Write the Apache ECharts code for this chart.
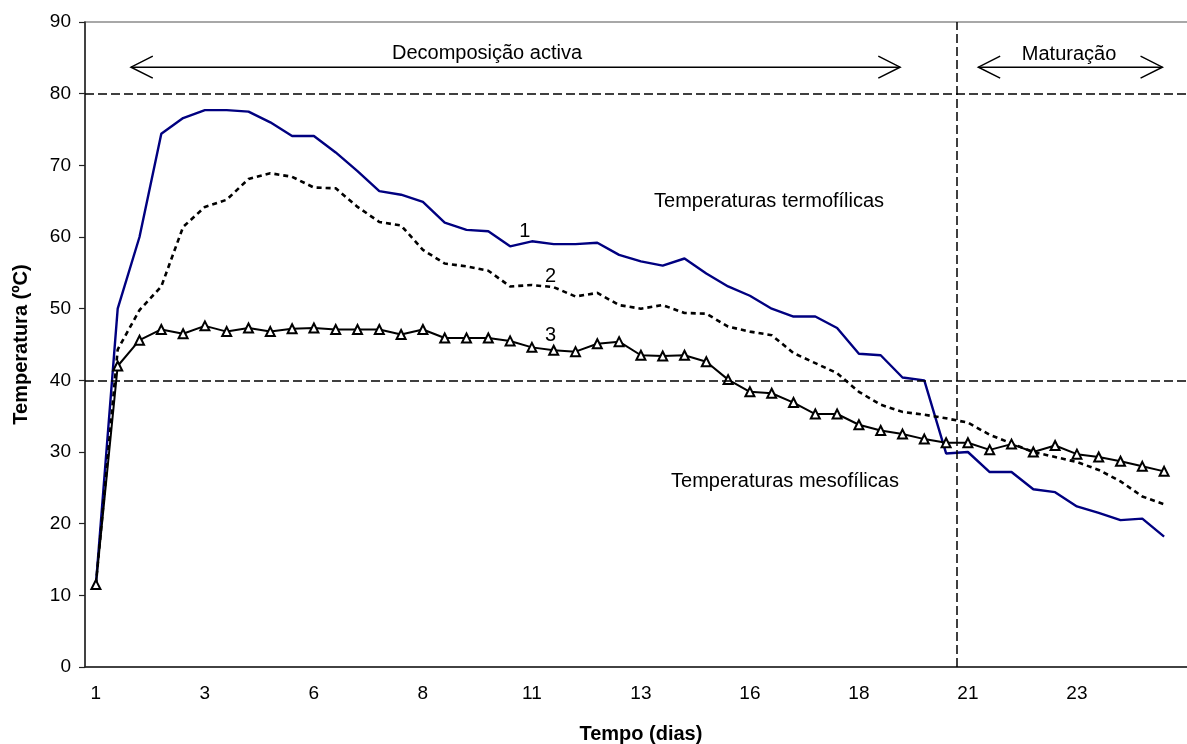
<!DOCTYPE html>
<html>
<head>
<meta charset="utf-8">
<script src="https://cdn.jsdelivr.net/npm/echarts@6/dist/echarts.min.js"></script>
<style>
  html, body { margin: 0; padding: 0; background: #fff; }
  #main { width: 1187px; height: 744px; }
</style>
</head>
<body>
<div id="main"></div>
<script>
  // dias de medição (meio dia entre pontos)
  const days = [1, 1.5, 2, 2.5, 3, 3.5, 4, 4.5, 5, 5.5, 6, 6.5, 7, 7.5, 8, 8.5, 9, 9.5, 10, 10.5,
    11, 11.5, 12, 12.5, 13, 13.5, 14, 14.5, 15, 15.5, 16, 16.5, 17, 17.5, 18, 18.5, 19, 19.5, 20, 20.5,
    21, 21.5, 22, 22.5, 23, 23.5, 24, 24.5, 25, 25.5];
  // o gráfico original está cortado à direita: mais uma categoria vazia
  const categories = days.concat(['']);

  const serie1 = [11.5, 50.0, 60.0, 74.4, 76.6, 77.7, 77.7, 77.5, 76.0, 74.1,
    74.1, 71.8, 69.2, 66.4, 65.9, 64.9, 62.0, 61.0, 60.8, 58.7,
    59.4, 59.0, 59.0, 59.2, 57.5, 56.6, 56.0, 57.0, 54.9, 53.1,
    51.8, 50.0, 48.9, 48.9, 47.3, 43.7, 43.5, 40.4, 40.0, 29.8,
    30.0, 27.2, 27.2, 24.8, 24.4, 22.4, 21.5, 20.5, 20.7, 18.2];
  const serie2 = [11.5, 44.3, 49.8, 53.1, 61.4, 64.2, 65.2, 68.1, 68.9, 68.4,
    66.9, 66.8, 64.2, 62.1, 61.6, 58.2, 56.3, 55.9, 55.3, 53.1,
    53.3, 53.0, 51.7, 52.2, 50.5, 50.0, 50.5, 49.4, 49.3, 47.5,
    46.8, 46.3, 43.8, 42.4, 41.0, 38.4, 36.6, 35.6, 35.2, 34.7,
    34.1, 32.4, 31.2, 30.0, 29.3, 28.6, 27.5, 25.9, 23.8, 22.7];
  const serie3 = [11.5, 42.0, 45.6, 47.1, 46.5, 47.6, 46.8, 47.3, 46.8, 47.2,
    47.3, 47.1, 47.1, 47.1, 46.4, 47.1, 45.9, 45.9, 45.9, 45.5,
    44.6, 44.2, 44.0, 45.1, 45.4, 43.5, 43.4, 43.5, 42.6, 40.1,
    38.4, 38.2, 36.9, 35.3, 35.3, 33.8, 33.0, 32.5, 31.8, 31.3,
    31.3, 30.3, 31.1, 30.0, 30.9, 29.7, 29.3, 28.7, 28.0, 27.3];

  // limites de temperatura e início da maturação (em posições de categoria)
  const limites = [40, 80];
  const inicioMaturacao = 40;

  // anotações: [posição x em categorias, temperatura, texto]
  const textos = [
    [18.44, 85.65, 'Decomposição activa'],
    [45.14, 85.5, 'Maturação'],
    [31.38, 64.9, 'Temperaturas termofílicas'],
    [32.11, 25.95, 'Temperaturas mesofílicas'],
    [20.18, 60.74, '1'],
    [21.36, 54.56, '2'],
    [21.36, 46.19, '3']
  ];
  const setas = [[2.11, 37.39], [40.98, 49.42]];
  const setaY = 83.7;

  const FONT = 'Liberation Sans, Arial, sans-serif';

  // linhas das setas com pontas abertas
  const dx = 1.0, dy = 1.53;
  const setaLinhas = [];
  setas.forEach(function (s) {
    setaLinhas.push({coords: [[s[0], setaY], [s[1], setaY]]});
    setaLinhas.push({coords: [[s[0] + dx, setaY + dy], [s[0], setaY], [s[0] + dx, setaY - dy]]});
    setaLinhas.push({coords: [[s[1] - dx, setaY + dy], [s[1], setaY], [s[1] - dx, setaY - dy]]});
  });

  const band = 1090 / days.length;
  const chart = echarts.init(document.getElementById('main'));
  chart.setOption({
    animation: false,
    grid: {
      left: 85, top: 22, bottom: 77,
      right: 1187 - 85 - band * categories.length,
      containLabel: false,
      outerBoundsMode: 'none',
      show: true, borderColor: '#8c8c8c', borderWidth: 1.5
    },
    xAxis: [
      {
        type: 'category',
        data: categories,
        boundaryGap: true,
        axisLine: {lineStyle: {color: '#222', width: 1.5}},
        axisTick: {interval: 4, length: 6, lineStyle: {color: '#222', width: 1.2}},
        axisLabel: {
          interval: 4, fontSize: 19, color: '#000', margin: 17, fontFamily: FONT,
          formatter: function (v) { return v === '' ? '' : String(Math.floor(+v)); }
        },
        name: 'Tempo (dias)',
        nameLocation: 'middle',
        nameGap: 57,
        nameTextStyle: {fontSize: 20, fontWeight: 'bold', color: '#000', fontFamily: FONT}
      },
      {
        type: 'value', show: false, position: 'top',
        min: 0, max: categories.length
      }
    ],
    yAxis: {
      type: 'value',
      min: 0, max: 90, interval: 10,
      axisLine: {show: true, lineStyle: {color: '#222', width: 1.5}},
      axisTick: {show: true, length: 6, lineStyle: {color: '#222', width: 1.2}},
      splitLine: {show: false},
      axisLabel: {fontSize: 19, color: '#000', margin: 14, fontFamily: FONT},
      name: 'Temperatura (ºC)',
      nameLocation: 'middle',
      nameGap: 54,
      nameTextStyle: {fontSize: 20, fontWeight: 'bold', color: '#000', fontFamily: FONT}
    },
    series: [
      {
        name: '1', type: 'line', data: serie1, showSymbol: false, symbol: 'none',
        lineStyle: {color: '#000080', width: 2.4}, z: 3
      },
      {
        name: '2', type: 'line', data: serie2, showSymbol: false, symbol: 'none',
        lineStyle: {color: '#000', width: 2.6, type: [5, 4]}, z: 3
      },
      {
        name: '3', type: 'line', data: serie3, symbol: 'triangle', symbolSize: 9,
        itemStyle: {color: '#fff', borderColor: '#000', borderWidth: 2},
        lineStyle: {color: '#000', width: 2}, z: 4
      },
      {
        type: 'line', xAxisIndex: 1, data: [], silent: true,
        markLine: {
          silent: true, symbol: 'none', label: {show: false},
          lineStyle: {color: '#000', width: 1.5, type: [9, 4]},
          data: limites.map(function (v) { return {yAxis: v}; })
            .concat([{xAxis: inicioMaturacao}])
        }
      },
      {
        type: 'lines', coordinateSystem: 'cartesian2d', xAxisIndex: 1, yAxisIndex: 0,
        polyline: true, silent: true,
        lineStyle: {color: '#000', width: 1.5, opacity: 1},
        data: setaLinhas
      },
      {
        type: 'scatter', xAxisIndex: 1, yAxisIndex: 0, silent: true,
        symbolSize: 1, itemStyle: {color: 'transparent'},
        label: {
          show: true, position: 'inside', formatter: '{b}',
          fontSize: 20, color: '#000', opacity: 1,
          textBorderWidth: 0, fontFamily: FONT
        },
        data: textos.map(function (t) { return {name: t[2], value: [t[0], t[1]]}; }),
        z: 6
      }
    ]
  });
</script>
</body>
</html>
